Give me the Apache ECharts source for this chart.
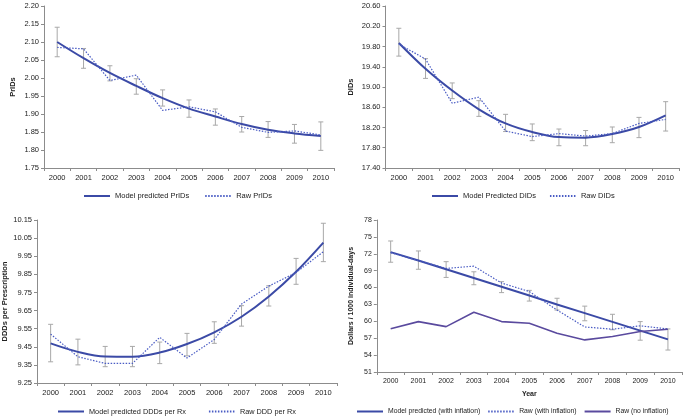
<!DOCTYPE html>
<html><head><meta charset="utf-8">
<script src="https://cdn.jsdelivr.net/npm/echarts@6/dist/echarts.min.js"></script>
<style>html,body{margin:0;padding:0;background:#fff}#c{width:686px;height:419px}</style>
</head><body><div id="c"></div>
<script>
const years = ['2000','2001','2002','2003','2004','2005','2006','2007','2008','2009','2010'];

// Panel 1: PrIDs
const pridModel = [2.100, 2.055, 2.014, 1.978, 1.944, 1.915, 1.893, 1.872, 1.856, 1.846, 1.839];
const pridRaw   = [2.085, 2.081, 1.993, 2.008, 1.910, 1.920, 1.906, 1.863, 1.849, 1.853, 1.842];
const pridLow   = [2.059, 2.027, 1.992, 1.955, 1.922, 1.891, 1.869, 1.850, 1.835, 1.819, 1.799];
const pridHigh  = [2.141, 2.082, 2.034, 1.998, 1.967, 1.939, 1.914, 1.893, 1.879, 1.871, 1.878];
const pridTicks = [1.75, 1.80, 1.85, 1.90, 1.95, 2.00, 2.05, 2.10, 2.15, 2.20];

// Panel 2: DIDs
const didModel = [19.87, 19.36, 18.93, 18.56, 18.28, 18.11, 18.01, 18.00, 18.07, 18.21, 18.44];
const didRaw   = [19.85, 19.55, 18.68, 18.80, 18.13, 18.02, 18.08, 18.03, 18.08, 18.28, 18.36];
const didLow   = [19.61, 19.17, 18.77, 18.42, 18.12, 17.94, 17.84, 17.84, 17.90, 18.00, 18.13];
const didHigh  = [20.16, 19.56, 19.08, 18.73, 18.46, 18.27, 18.17, 18.14, 18.21, 18.40, 18.71];
const didTicks = [17.40, 17.80, 18.20, 18.60, 19.00, 19.40, 19.80, 20.20, 20.60];

// Panel 3: DDDs per prescription
const dddModel = [9.469, 9.422, 9.396, 9.395, 9.418, 9.465, 9.530, 9.616, 9.728, 9.864, 10.025];
const dddRaw   = [9.520, 9.395, 9.358, 9.358, 9.502, 9.388, 9.490, 9.686, 9.785, 9.860, 9.975];
const dddLow   = [9.367, 9.350, 9.340, 9.340, 9.357, 9.400, 9.469, 9.564, 9.675, 9.795, 9.920];
const dddHigh  = [9.574, 9.492, 9.452, 9.452, 9.476, 9.524, 9.588, 9.677, 9.787, 9.938, 10.132];
const dddTicks = [9.25, 9.35, 9.45, 9.55, 9.65, 9.75, 9.85, 9.95, 10.05, 10.15];

// Panel 4: Dollars / 1000 individual-days
const costModel   = [72.3, 70.8, 69.25, 67.7, 66.15, 64.6, 63.0, 61.45, 59.9, 58.35, 56.8];
const costRaw     = [72.2, 70.8, 69.4, 69.8, 66.8, 65.3, 62.0, 59.0, 58.6, 59.2, 58.65];
const costNoInfl  = [58.7, 59.95, 59.06, 61.6, 59.95, 59.66, 57.9, 56.7, 57.3, 58.2, 58.6];
const costLow     = [70.5, 69.25, 67.8, 66.5, 65.1, 63.6, 62.0, 60.1, 58.5, 56.65, 54.9];
const costHigh    = [74.27, 72.5, 70.6, 68.8, 67.05, 65.5, 64.1, 62.7, 61.25, 59.95, 58.65];
const costTicks   = [51, 54, 57, 60, 63, 66, 69, 72, 75, 78];

const FONT = 'Liberation Sans, Arial, sans-serif';
const TXT = '#222';
const AXC = '#8c8c8c';
const MODEL_C = '#3b4aa6';
const RAW_C = '#4a5cc4';
const NOINF_C = '#5a4a9e';

function xAxis(gi, fs, extra) {
  return Object.assign({
    type: 'category', gridIndex: gi, data: years, boundaryGap: true,
    axisLine: {lineStyle: {color: AXC, width: 1}},
    axisTick: {show: true, length: 3, lineStyle: {color: AXC}},
    axisLabel: {color: TXT, fontSize: fs, fontFamily: FONT, margin: 6},
    splitLine: {show: false}
  }, extra || {});
}
function yAxis(gi, ticks, dec, name, gap, fs) {
  return {
    type: 'value', gridIndex: gi, min: ticks[0], max: ticks[ticks.length - 1],
    name: name, nameLocation: 'middle', nameGap: gap,
    nameTextStyle: {color: TXT, fontSize: fs, fontWeight: 'bold', fontFamily: FONT},
    axisLine: {show: true, lineStyle: {color: AXC, width: 1}},
    axisTick: {show: true, length: 3, lineStyle: {color: AXC}, customValues: ticks},
    axisLabel: {color: TXT, fontSize: fs, fontFamily: FONT, margin: 5, customValues: ticks,
      formatter: v => Number(v).toFixed(dec)},
    splitLine: {show: false}
  };
}
function errSeries(gi, low, high) {
  return {
    type: 'custom', xAxisIndex: gi, yAxisIndex: gi, z: 1,
    encode: {x: 0, y: [1, 2]},
    data: years.map((y, i) => [i, low[i], high[i]]),
    renderItem: function (params, api) {
      const i = api.value(0);
      const lo = api.coord([i, api.value(1)]);
      const hi = api.coord([i, api.value(2)]);
      const hw = 2.5;
      const style = {stroke: '#a8a8a8', lineWidth: 1};
      return {type: 'group', children: [
        {type: 'line', shape: {x1: lo[0], y1: lo[1], x2: hi[0], y2: hi[1]}, style: style},
        {type: 'line', shape: {x1: lo[0] - hw, y1: lo[1], x2: lo[0] + hw, y2: lo[1]}, style: style},
        {type: 'line', shape: {x1: hi[0] - hw, y1: hi[1], x2: hi[0] + hw, y2: hi[1]}, style: style}
      ]};
    }
  };
}
function lineSeries(gi, name, data, color, width, dotted, smooth) {
  return {
    type: 'line', name: name, xAxisIndex: gi, yAxisIndex: gi, data: data,
    symbol: 'none', z: 3, smooth: smooth || false,
    lineStyle: {color: color, width: width, type: dotted ? [1.5, 1.5] : 'solid'},
    itemStyle: {color: color}
  };
}
function legend(names, left, top, gap, fs) {
  return {
    data: names, left: left, top: top, padding: 0, itemWidth: 26, itemHeight: 6, itemGap: gap,
    itemStyle: {opacity: 0},
    textStyle: {color: TXT, fontSize: fs, fontFamily: FONT}, selectedMode: false
  };
}

const chart = echarts.init(document.getElementById('c'), null, {renderer: 'canvas'});
chart.setOption({
  animation: false,
  backgroundColor: '#fff',
  grid: [
    {left: 44, top: 6, width: 290, height: 162},
    {left: 385.5, top: 6, width: 293.5, height: 162},
    {left: 37, top: 220, width: 300, height: 163},
    {left: 376.8, top: 220, width: 305, height: 152}
  ],
  xAxis: [
    xAxis(0, 7.5), xAxis(1, 7.5), xAxis(2, 7.5),
    xAxis(3, 7, {name: 'Year', nameLocation: 'middle', nameGap: 19,
      nameTextStyle: {color: TXT, fontSize: 7, fontWeight: 'bold', fontFamily: FONT}})
  ],
  yAxis: [
    yAxis(0, pridTicks, 2, 'PrIDs', 27, 7.5),
    yAxis(1, didTicks, 2, 'DIDs', 31, 7.5),
    yAxis(2, dddTicks, 2, 'DDDs per Prescription', 28, 7.5),
    yAxis(3, costTicks, 0, 'Dollars / 1000 individual-days', 22, 7)
  ],
  legend: [
    legend(['Model predicted PrIDs', 'Raw PrIDs'], 83, 192, 15, 7.5),
    legend(['Model Predicted DIDs', 'Raw DIDs'], 431, 192, 13, 7.5),
    legend(['Model predicted DDDs per Rx', 'Raw DDD per Rx'], 57, 408, 22, 7.3),
    legend(['Model predicted (with inflation)', 'Raw (with inflation)', 'Raw (no inflation)'], 356, 408, 7, 6.8)
  ],
  series: [
    errSeries(0, pridLow, pridHigh),
    lineSeries(0, 'Model predicted PrIDs', pridModel, MODEL_C, 2, false, 0.35),
    lineSeries(0, 'Raw PrIDs', pridRaw, RAW_C, 1.2, true),
    errSeries(1, didLow, didHigh),
    lineSeries(1, 'Model Predicted DIDs', didModel, MODEL_C, 2, false, 0.35),
    lineSeries(1, 'Raw DIDs', didRaw, RAW_C, 1.2, true),
    errSeries(2, dddLow, dddHigh),
    lineSeries(2, 'Model predicted DDDs per Rx', dddModel, MODEL_C, 2, false, 0.35),
    lineSeries(2, 'Raw DDD per Rx', dddRaw, RAW_C, 1.2, true),
    errSeries(3, costLow, costHigh),
    lineSeries(3, 'Model predicted (with inflation)', costModel, MODEL_C, 2, false),
    lineSeries(3, 'Raw (with inflation)', costRaw, RAW_C, 1.2, true),
    lineSeries(3, 'Raw (no inflation)', costNoInfl, NOINF_C, 1.6, false)
  ]
});
</script>
</body></html>
